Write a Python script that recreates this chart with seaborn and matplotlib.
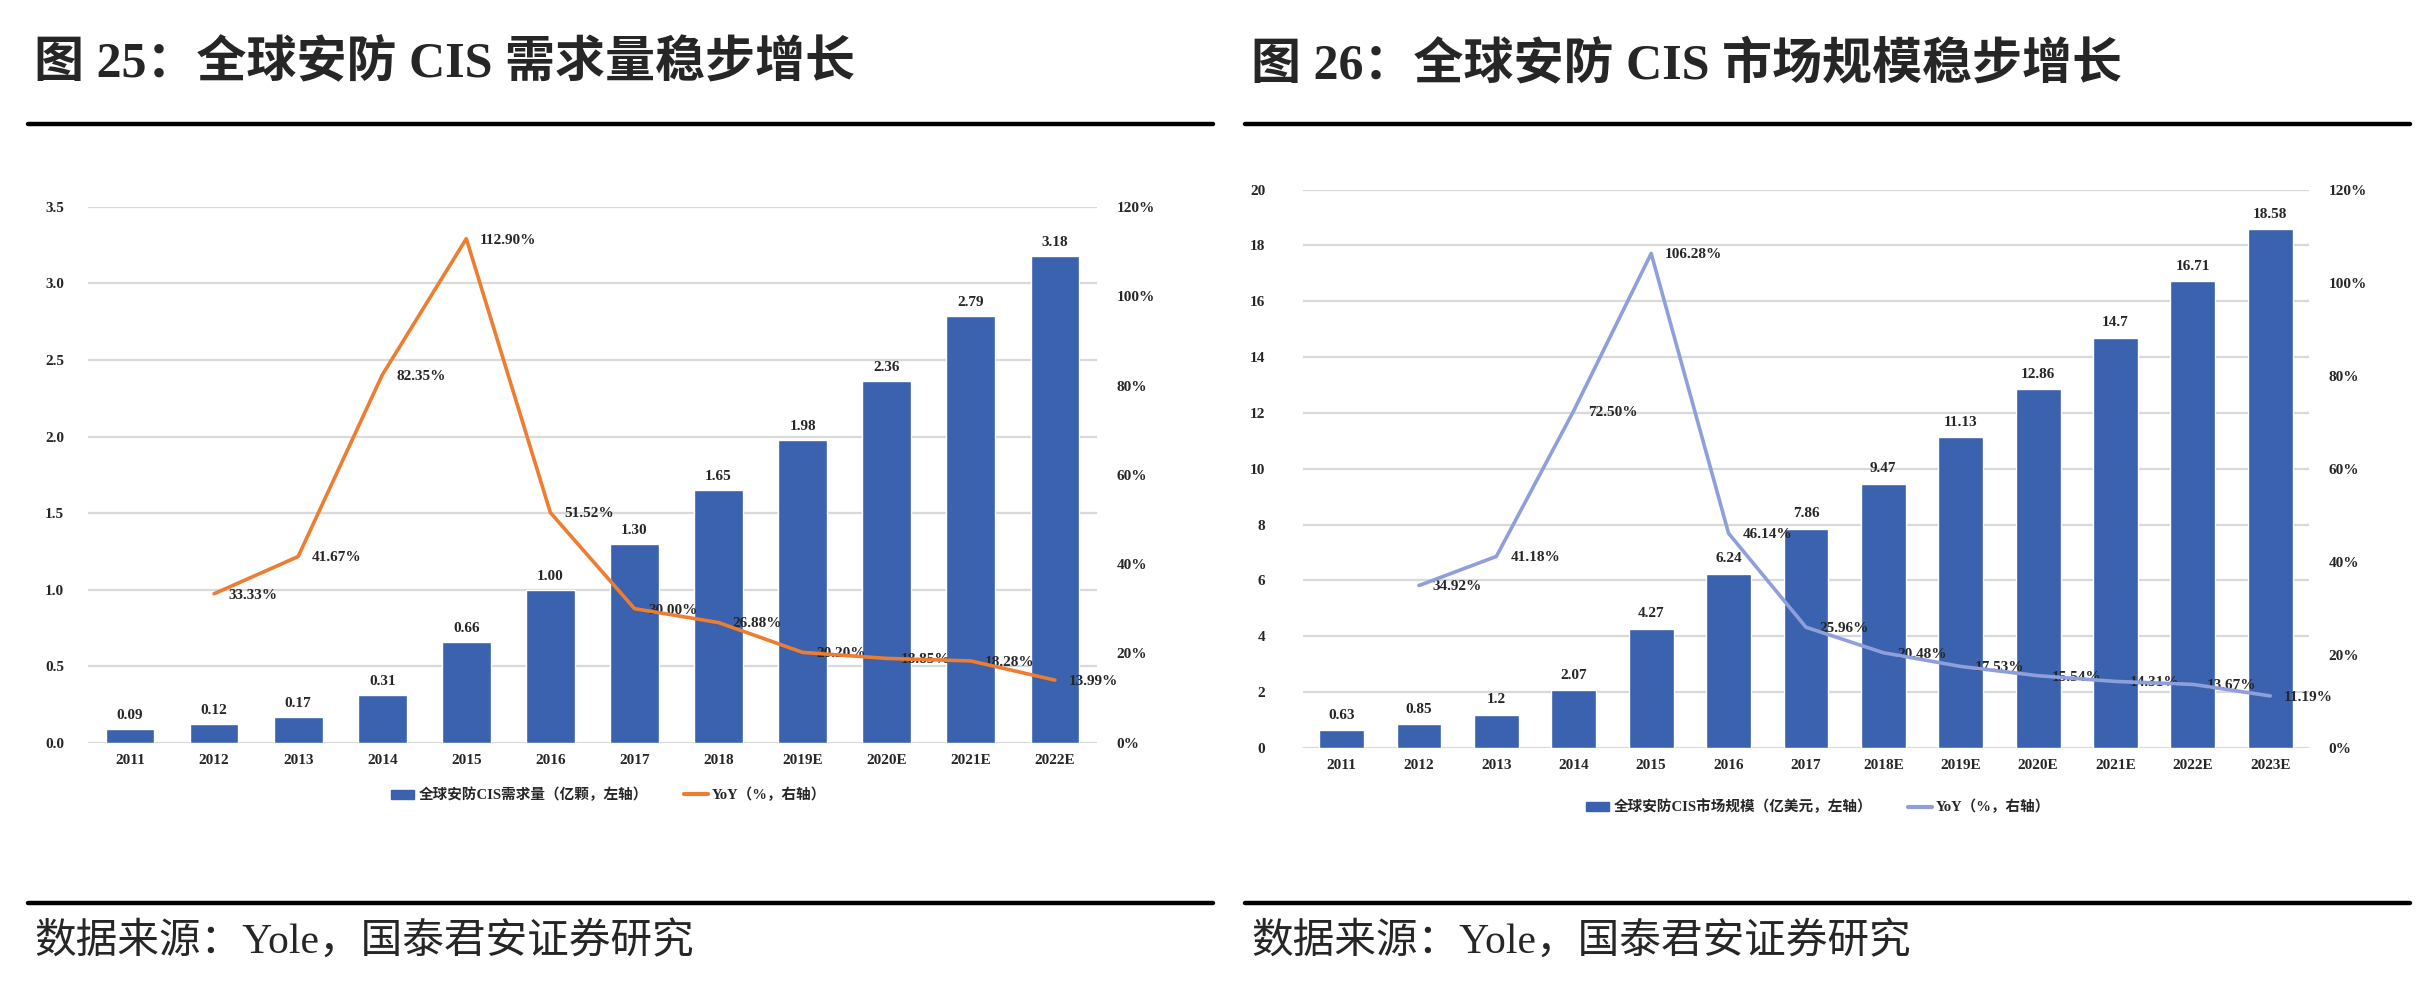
import matplotlib
matplotlib.use("Agg")
import matplotlib.pyplot as plt
import matplotlib.lines as mlines
import matplotlib.patches as mpatches
import numpy as np
import seaborn as sns

# --- data ---
years_l = ["2011", "2012", "2013", "2014", "2015", "2016", "2017", "2018",
           "2019E", "2020E", "2021E", "2022E"]
demand = [0.09, 0.12, 0.17, 0.31, 0.66, 1.00, 1.30, 1.65, 1.98, 2.36, 2.79, 3.18]
yoy_l = [None, 33.33, 41.67, 82.35, 112.90, 51.52, 30.00, 26.88, 20.20, 18.85, 18.28, 13.99]

years_r = ["2011", "2012", "2013", "2014", "2015", "2016", "2017", "2018E",
           "2019E", "2020E", "2021E", "2022E", "2023E"]
market = [0.63, 0.85, 1.2, 2.07, 4.27, 6.24, 7.86, 9.47, 11.13, 12.86, 14.7, 16.71, 18.58]
yoy_r = [None, 34.92, 41.18, 72.50, 106.28, 46.14, 25.96, 20.48, 17.53, 15.54, 14.31, 13.67, 11.19]

titles = ["图 25：全球安防 CIS 需求量稳步增长", "图 26：全球安防 CIS 市场规模稳步增长"]
bar_names = ["全球安防CIS需求量（亿颗，左轴）", "全球安防CIS市场规模（亿美元，左轴）"]
line_name = "YoY（%，右轴）"
source = "数据来源：Yole，国泰君安证券研究"

BAR = "#3A62AE"
ORANGE = "#ED7D31"
LAVENDER = "#8E9FDB"
GRID = "#D9D9D9"

sns.set_theme(style="white")
plt.rcParams["font.family"] = ["Liberation Serif", "Noto Sans CJK SC"]
FAM = ["Liberation Serif", "Noto Sans CJK SC"]

fig = plt.figure(figsize=(24.29, 9.81), dpi=100)


def draw_panel(rect, cats, bars, yoy, ymax, ystep, tick_fmt, bar_fmt, line_color,
               bar_label, tick_pad, lab_off, legend_anchor):
    ax = fig.add_axes(rect)
    xs = np.arange(len(cats))
    sns.barplot(x=cats, y=bars, color=BAR, width=0.58, saturation=1, ax=ax, zorder=3)
    ax.set_ylim(0, ymax)
    ax.set_xlim(-0.5, len(cats) - 0.5)
    ticks = np.arange(0, ymax + ystep / 2, ystep)
    ax.set_yticks(ticks)
    ax.set_yticklabels([tick_fmt(v) for v in ticks])
    ax.yaxis.grid(True, color=GRID, lw=1.6, zorder=0)
    ax.set_axisbelow(True)
    for s in ax.spines.values():
        s.set_visible(False)
    ax.tick_params(axis="y", length=0, pad=tick_pad, labelsize=11)
    ax.tick_params(axis="x", length=0, pad=8, labelsize=11)
    for t in ax.get_xticklabels() + ax.get_yticklabels():
        t.set_fontweight("bold")
    for i, v in enumerate(bars):
        ax.annotate(bar_fmt(v), (i, v), xytext=(0, lab_off),
                    textcoords="offset points", ha="center", va="bottom",
                    fontsize=11, fontweight="bold")

    ax2 = ax.twinx()
    px = [x for x, y in zip(xs, yoy) if y is not None]
    py = [y for y in yoy if y is not None]
    sns.lineplot(x=px, y=py, color=line_color, lw=2.6, ax=ax2, zorder=4)
    ax2.set_ylim(0, 120)
    ax2.set_yticks(range(0, 121, 20))
    ax2.set_yticklabels([f"{v}%" for v in range(0, 121, 20)])
    ax2.tick_params(axis="y", length=0, pad=14, labelsize=11)
    for t in ax2.get_yticklabels():
        t.set_fontweight("bold")
    for s in ax2.spines.values():
        s.set_visible(False)
    ax2.grid(False)
    for x, y in zip(px, py):
        ax2.annotate(f"{y:.2f}%", (x, y), xytext=(10, -1), textcoords="offset points",
                     ha="left", va="center", fontsize=11, fontweight="bold")

    handles = [mpatches.Patch(color=BAR, label=bar_label),
               mlines.Line2D([], [], color=line_color, lw=3, label=line_name)]
    fig.legend(handles=handles, loc="center", bbox_to_anchor=legend_anchor,
               ncol=2, frameon=False, handlelength=1.6,
               handleheight=0.6, columnspacing=2.5, handletextpad=0.3,
               prop={"family": FAM, "weight": "bold", "size": 10.5})
    return ax


# left panel: 0-3.5, two-decimal bar labels
draw_panel([0.0362, 0.2431, 0.4154, 0.5459], years_l, demand, yoy_l, 3.5, 0.5,
           lambda v: f"{v:.1f}", lambda v: f"{v:.2f}", ORANGE, bar_names[0], 17, 5,
           (0.2505, 1 - 795 / 981))
# right panel: 0-20, integer ticks
draw_panel([0.5364, 0.2375, 0.4142, 0.5692], years_r, market, yoy_r, 20, 2,
           lambda v: f"{v:g}", lambda v: f"{v:g}", LAVENDER, bar_names[1], 27, 6,
           (0.7485, 1 - 807 / 981))

# titles, rules and source lines
for x0, x1, title in [(28, 1213, titles[0]), (1245, 2410, titles[1])]:
    fig.text((x0 + 6) / 2429, 1 - 65 / 981, title, fontsize=36, fontweight="bold",
             family=FAM, va="center", ha="left")
    fig.add_artist(mlines.Line2D([x0 / 2429, x1 / 2429], [1 - 124 / 981] * 2,
                                 color="black", lw=3.2))
    fig.add_artist(mlines.Line2D([x0 / 2429, x1 / 2429], [1 - 903 / 981] * 2,
                                 color="black", lw=3.2))
    fig.text((x0 + 6) / 2429, 1 - 942 / 981, source, fontsize=30, family=FAM,
             va="center", ha="left")

fig.savefig("out.png", dpi=100, facecolor="white")
